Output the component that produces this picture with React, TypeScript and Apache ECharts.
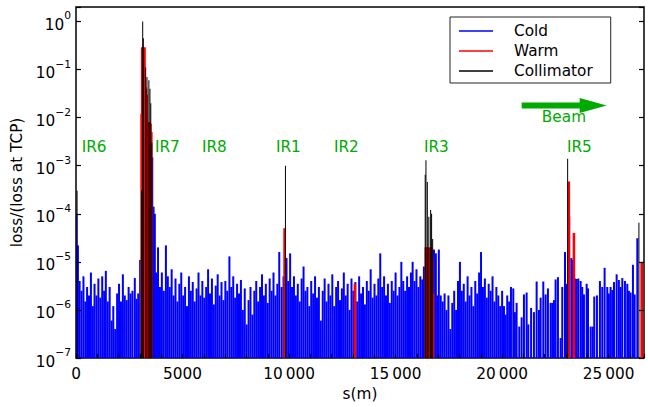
import React, { useEffect, useRef } from 'react';
import * as echarts from 'echarts';

const FONT = 'DejaVu Sans';
const GREEN = '#00aa00';

const sMax = 26659;
const lossMin = 1e-7;
const lossMax = 2;

// [s (m), loss / loss at TCP]
const coldLoss: [number, number][] = [
  [20, 1.0e-4], [90, 2.2e-5], [170, 4e-6], [260, 2.5e-6], [350, 5e-6], [440, 1.5e-6], [520, 3e-6], [610, 2e-6],
  [700, 6e-6], [790, 1.2e-6], [870, 3.5e-6], [960, 2e-6], [1050, 4.5e-6], [1140, 1.8e-6], [1230, 5e-6], [1320, 2.5e-6],
  [1400, 6.5e-6], [1490, 1.5e-6], [1580, 3e-6], [1670, 6e-7], [1750, 1.2e-6], [1840, 4e-7], [1930, 2.2e-6], [2020, 3.5e-6],
  [2110, 1.5e-6], [2200, 5.5e-6], [2290, 2e-6], [2380, 1.6e-6], [2470, 3e-6], [2560, 2.2e-6], [2650, 2.5e-6], [2760, 4.6e-6],
  [2840, 1.7e-6], [2920, 2.2e-6], [3010, 1.1e-5],
  [3580, 1.5e-3], [3640, 1.4e-4], [3700, 1e-4], [3760, 6e-6], [3850, 2e-5], [3940, 3e-6], [4030, 6e-6], [4120, 2.5e-6],
  [4220, 2.2e-5], [4310, 5e-6], [4400, 3e-6], [4490, 7e-6], [4580, 2e-6], [4670, 4.5e-6], [4760, 1.5e-6], [4850, 3.5e-6],
  [4940, 6e-6], [5030, 2e-6], [5120, 3e-6], [5210, 1.2e-6], [5300, 5e-6], [5390, 2.5e-6], [5480, 3.8e-6], [5570, 1.5e-6],
  [5660, 2.8e-6], [5750, 6e-6], [5840, 2e-6], [5930, 4e-6], [6020, 1.8e-6], [6110, 3e-6], [6200, 7e-6], [6290, 2.2e-6],
  [6380, 4.5e-6], [6470, 1.3e-6], [6560, 3.2e-6], [6650, 5.5e-6], [6740, 2e-6], [6830, 3.8e-6], [6920, 1.6e-6], [7010, 4e-6],
  [7100, 2.5e-6], [7200, 1.3e-5], [7290, 3e-6], [7380, 5e-6], [7470, 1.8e-6], [7560, 3.5e-6], [7650, 2.2e-6], [7740, 4.2e-6],
  [7830, 1e-6], [7920, 2.8e-6], [8010, 5e-7], [8100, 1.6e-6], [8190, 3e-6], [8280, 8e-7], [8370, 2.5e-6], [8460, 4e-6],
  [8550, 1.5e-6], [8640, 3e-6], [8730, 5.5e-6], [8820, 2e-6], [8910, 3.5e-6], [9000, 1.4e-6], [9090, 4.5e-6], [9180, 2.5e-6],
  [9270, 6e-6], [9360, 2e-6], [9450, 3.5e-6], [9540, 1.6e-5], [9650, 3e-6], [9740, 5e-6], [9880, 1.2e-5], [9960, 4e-6],
  [10050, 1.5e-5], [10140, 3e-6], [10230, 5e-6], [10320, 2e-6], [10410, 3.5e-6], [10500, 1.5e-6], [10590, 4.5e-6], [10680, 8e-6],
  [10770, 2.5e-6], [10860, 3e-6], [10950, 1.2e-6], [11040, 4e-6], [11130, 2.2e-6], [11220, 5e-6], [11310, 1.8e-6], [11400, 3e-6],
  [11490, 6e-7], [11580, 2.5e-6], [11670, 4.5e-6], [11760, 1.5e-6], [11850, 3.5e-6], [11940, 2e-6], [12030, 5.5e-6], [12120, 1.2e-6],
  [12210, 3e-6], [12300, 4e-6], [12390, 1.6e-6], [12480, 2.8e-6], [12570, 6e-6], [12660, 2e-6], [12750, 3.5e-6], [12840, 1e-6],
  [12930, 4.5e-6], [13020, 2.5e-6], [13110, 3.8e-6], [13200, 1.5e-6], [13290, 5e-6], [13380, 2.2e-6], [13470, 3e-6], [13560, 1.3e-6],
  [13650, 4e-6], [13740, 2.5e-6], [13830, 7e-6], [13920, 1.8e-6], [14010, 3.5e-6], [14100, 2e-6], [14190, 4.5e-6], [14280, 1.5e-5],
  [14370, 3e-6], [14460, 5e-6], [14550, 2e-6], [14640, 3.5e-6], [14730, 1.4e-6], [14820, 4e-6], [14910, 2.5e-6], [15000, 6e-6],
  [15090, 2e-6], [15180, 3e-6], [15270, 1e-5], [15360, 4e-6], [15450, 2.5e-6], [15540, 5e-6], [15630, 3e-6], [15720, 6e-6],
  [15800, 1e-5], [15890, 4e-6], [15980, 7e-6], [16070, 3e-6], [16160, 5e-6], [16250, 4.3e-6], [16330, 8e-6],
  [16800, 1.8e-5], [16890, 1.5e-5], [16960, 2e-6], [17030, 1.8e-5], [17120, 2e-6], [17210, 1.5e-6], [17300, 2.2e-6],
  [17390, 1e-6], [17480, 2e-6], [17570, 4e-7], [17660, 1.4e-6], [17750, 2.5e-6], [17840, 1e-6], [17930, 4e-6], [18020, 1e-5],
  [18110, 2.5e-6], [18200, 3.5e-6], [18290, 1.5e-6], [18380, 5e-6], [18470, 2e-6], [18560, 3e-6], [18650, 1.2e-6], [18740, 4e-6],
  [18830, 2.2e-6], [18920, 6e-6], [19010, 1.6e-5], [19100, 3e-6], [19190, 4.5e-6], [19280, 1.8e-6], [19370, 3.5e-6], [19460, 2.5e-6],
  [19550, 5e-6], [19640, 1.5e-6], [19730, 3e-6], [19820, 2e-6], [19910, 1.2e-6], [20000, 2.5e-6], [20086, 1.2e-6], [20160, 8e-7],
  [20240, 2e-6], [20330, 1.5e-6], [20415, 3e-6], [20524, 2.8e-6], [20600, 9e-7], [20680, 1.4e-6], [20805, 4.5e-7], [20915, 7e-7],
  [21025, 2.1e-6], [21150, 2.3e-6], [21228, 5e-7], [21360, 1.1e-6], [21494, 9e-7], [21620, 3.9e-6], [21728, 1e-6], [21807, 1.8e-6],
  [21932, 3.9e-6], [22042, 2.1e-6], [22150, 2.8e-6], [22276, 1.4e-6], [22354, 1.4e-6], [22432, 1.6e-6], [22510, 4.3e-6], [22620, 4.8e-6],
  [22745, 2.6e-7], [22823, 3e-6], [22950, 1.6e-5], [23028, 3.5e-6], [23150, 8.8e-5], [23250, 1.2e-5], [23300, 1.1e-5], [23420, 4.5e-6],
  [23500, 4.4e-6], [23575, 4.5e-6], [23685, 4e-6], [23760, 3e-6], [23840, 2.1e-6], [23967, 3.5e-6], [24030, 2.8e-6], [24155, 4.5e-7],
  [24250, 4.5e-7], [24325, 1.9e-6], [24450, 2e-6], [24590, 4e-6], [24700, 3e-6], [24810, 7.5e-6], [24935, 3e-6], [25010, 2.2e-6],
  [25090, 3e-6], [25170, 2.6e-6], [25250, 3.8e-6], [25375, 5.5e-6], [25480, 4.2e-6], [25560, 3e-6], [25640, 4.6e-6], [25765, 4e-6],
  [25875, 3.5e-6], [25950, 2.5e-6], [26030, 2.3e-6], [26140, 8.7e-6], [26220, 2.1e-6], [26345, 3.1e-5],
];

const warmLoss: [number, number][] = [
  [3080, 0.012], [3110, 0.29], [3145, 0.27], [3180, 0.22], [3215, 0.29], [3250, 0.044], [3285, 0.04], [3320, 0.03],
  [3375, 0.008], [3415, 0.006], [3455, 0.008], [3495, 0.0075], [3535, 0.005],
  [9790, 5e-5], [13090, 3.5e-6],
  [16420, 2e-5], [16470, 2e-5], [16520, 1.8e-5], [16570, 2e-5], [16620, 1.5e-5], [16670, 2e-5], [16720, 1.2e-5], [16760, 2.2e-6],
  [23130, 4.7e-4], [23370, 4e-5], [26550, 1e-5],
];

const collimatorLoss: [number, number][] = [
  [50, 3e-4],
  [3075, 3e-4], [3130, 1.0], [3160, 0.45], [3270, 0.11], [3330, 0.07], [3420, 0.06], [3470, 0.04], [3510, 0.02], [3560, 0.003],
  [9830, 1e-3],
  [16390, 6.5e-4], [16425, 1.3e-3], [16490, 4.6e-4], [16560, 8.7e-5], [16645, 1.2e-4], [16690, 1e-4], [16740, 3e-5],
  [23075, 1.4e-3], [26420, 6.5e-5],
];

const irNames = ['IR6', 'IR7', 'IR8', 'IR1', 'IR2', 'IR3', 'IR5'];
const irS = [267, 3707, 5913, 9386, 12108, 16332, 23043];
const irLevel = 2.49e-3;

const beamFromS = 20917;
const beamToS = 24906;
const beamLevel = 0.01795;
const beamTextS = 22902;
const beamTextLevel = 0.0104;

function barSeries(name: string, data: [number, number][], color: string, width: number) {
  return {
    type: 'custom',
    name,
    clip: true,
    itemStyle: { color },
    data,
    encode: { x: 0, y: 1 },
    renderItem: (params: any, api: any) => {
      const s = api.value(0);
      const v = api.value(1);
      const top = api.coord([s, v]);
      const bot = api.coord([s, lossMin]);
      return {
        type: 'rect',
        shape: { x: top[0] - width / 2, y: top[1], width, height: bot[1] - top[1] },
        style: { fill: color },
      };
    },
  };
}

function supLabel(v: number) {
  const l = Math.log10(v);
  const e = Math.round(l);
  if (Math.abs(l - e) > 1e-6) return '';
  return `{b|10}{s|${e < 0 ? '\u2212' : ''}${Math.abs(e)}}`;
}

function xLabel(v: number) {
  if (Math.abs(v % 5000) > 1e-6) return '';
  if (v >= 10000) {
    const str = String(v);
    return str.slice(0, str.length - 3) + '\u2009' + str.slice(-3);
  }
  return String(v);
}

export default function App() {
  const ref = useRef<HTMLDivElement>(null);
  useEffect(() => {
    if (!ref.current) return;
    const chart = echarts.init(ref.current, undefined, { renderer: 'svg' });
    const yCommon = {
      type: 'log',
      logBase: 10,
      min: lossMin,
      max: lossMax,
      z: 10,
      axisLine: { show: false },
      splitLine: { show: false },
      axisTick: { show: true, inside: true, length: 5, lineStyle: { color: '#000', width: 1.2 } },
    };
    chart.setOption({
      animation: false,
      backgroundColor: '#fff',
      grid: {
        left: 76, right: 4, top: 7, bottom: 49,
        show: true, borderColor: '#000', borderWidth: 1.5, backgroundColor: 'transparent',
      },
      legend: {
        orient: 'vertical', left: 450, top: 17,
        padding: [4, 18, 2, 9],
        itemGap: 0, itemWidth: 34, itemHeight: 1.3,
        borderColor: '#222', borderWidth: 1, borderRadius: 0,
        backgroundColor: '#fff',
        selectedMode: false,
        textStyle: { fontFamily: FONT, fontSize: 15.3, color: '#000', lineHeight: 20, padding: [0, 0, 0, 16] },
        data: [
          { name: 'Cold', icon: 'rect' },
          { name: 'Warm', icon: 'rect' },
          { name: 'Collimator', icon: 'rect' },
        ],
      },
      xAxis: {
        type: 'value', min: 0, max: sMax, interval: 1000, z: 10,
        name: 's(m)', nameLocation: 'middle', nameGap: 28,
        nameTextStyle: { fontFamily: FONT, fontSize: 15.3, color: '#000' },
        axisLine: { show: false },
        splitLine: { show: false },
        axisTick: { show: true, inside: true, length: 4, lineStyle: { color: '#000', width: 1.2 } },
        axisLabel: { margin: 8, formatter: xLabel, fontFamily: FONT, fontSize: 15.3, color: '#000' },
      },
      yAxis: [
        {
          ...yCommon,
          position: 'left',
          name: 'loss/(loss at TCP)', nameLocation: 'middle', nameGap: 43,
          nameTextStyle: { fontFamily: FONT, fontSize: 15.3, color: '#000' },
          axisLabel: {
            margin: 5,
            formatter: supLabel,
            rich: {
              b: { fontFamily: FONT, fontSize: 15.3, color: '#000', verticalAlign: 'bottom', lineHeight: 22 },
              s: { fontFamily: FONT, fontSize: 10.7, color: '#000', verticalAlign: 'top', lineHeight: 22 },
            },
          },
        },
        { ...yCommon, position: 'right', axisLabel: { show: false } },
      ],
      series: [
        barSeries('Cold', coldLoss, '#0000ff', 2.0),
        barSeries('Warm', warmLoss, '#ff0000', 2.6),
        barSeries('Collimator', collimatorLoss, '#000000', 1.0),
        {
          type: 'custom',
          name: 'irLabels',
          clip: false,
          data: irS.map((s) => [s, irLevel]),
          encode: { x: 0, y: 1 },
          renderItem: (params: any, api: any) => {
            const p = api.coord([api.value(0), api.value(1)]);
            return {
              type: 'text', x: p[0], y: p[1],
              style: { text: irNames[params.dataIndex], fill: GREEN, fontFamily: FONT, fontSize: 15.3, align: 'left', verticalAlign: 'middle' },
            };
          },
        },
        {
          type: 'custom',
          name: 'beam',
          clip: false,
          data: [[beamFromS, beamLevel, beamToS, beamTextS, beamTextLevel]],
          encode: { x: 0, y: 1 },
          renderItem: (params: any, api: any) => {
            const a = api.coord([api.value(0), api.value(1)]);
            const b = api.coord([api.value(2), api.value(1)]);
            const t = api.coord([api.value(3), api.value(4)]);
            const y = a[1];
            const hl = 27, hw = 7.5, sw = 3;
            return {
              type: 'group',
              children: [
                {
                  type: 'polygon',
                  shape: {
                    points: [
                      [a[0], y - sw], [b[0] - hl, y - sw], [b[0] - hl, y - hw], [b[0], y],
                      [b[0] - hl, y + hw], [b[0] - hl, y + sw], [a[0], y + sw],
                    ],
                  },
                  style: { fill: GREEN },
                },
                {
                  type: 'text', x: t[0], y: t[1],
                  style: { text: 'Beam', fill: GREEN, fontFamily: FONT, fontSize: 15.3, align: 'center', verticalAlign: 'middle' },
                },
              ],
            };
          },
        },
      ],
    });
    return () => chart.dispose();
  }, []);
  return <div ref={ref} style={{ width: 648, height: 407, position: 'absolute', left: 0, top: 0 }} />;
}
